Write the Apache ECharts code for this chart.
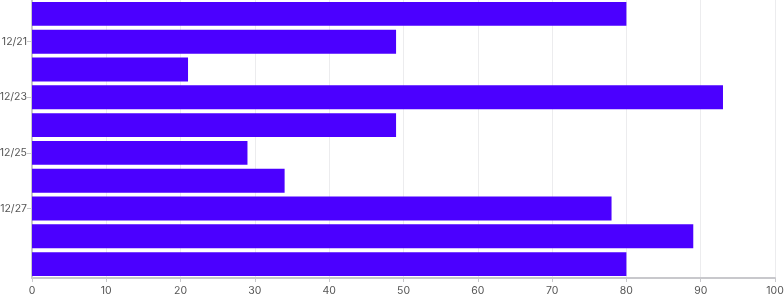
<!DOCTYPE html>
<html><head><meta charset="utf-8">
<script src="https://cdn.jsdelivr.net/npm/echarts@6/dist/echarts.min.js"></script>
<style>html,body{margin:0;padding:0;background:#fff}#c{width:784px;height:300px}</style>
</head><body><div id="c"></div>
<script>
const categories = ['12/20','12/21','12/22','12/23','12/24','12/25','12/26','12/27','12/28','12/29'];
const values = [80, 49, 21, 93, 49, 29, 34, 78, 89, 80];
const shownLabels = ['12/21','12/23','12/25','12/27'];
const xTicks = {min: 0, max: 100, interval: 10};

const chart = echarts.init(document.getElementById('c'), null, {renderer: 'canvas'});
const showFn = (i, v) => shownLabels.indexOf(categories[i]) >= 0;
chart.setOption({
  animation: false,
  grid: {left: 32, right: 9, top: 0, bottom: 22, containLabel: false, outerBoundsMode: 'none'},
  xAxis: {
    type: 'value', min: xTicks.min, max: xTicks.max, interval: xTicks.interval,
    axisLine: {show: true, lineStyle: {color: '#c8c8cc', width: 2}},
    axisTick: {show: true, length: 4, lineStyle: {color: '#c8c8cc'}},
    axisLabel: {color: '#555', fontSize: 10.5, fontFamily: 'Inter', margin: 7},
    splitLine: {show: true, lineStyle: {color: '#ececee', width: 1}}
  },
  yAxis: {
    type: 'category', data: categories, inverse: true,
    axisLine: {show: true, lineStyle: {color: '#c8c8cc', width: 2}},
    axisTick: {show: true, alignWithLabel: true, length: 5, interval: showFn, lineStyle: {color: '#c8c8cc'}},
    axisLabel: {color: '#555', fontSize: 10.5, fontFamily: 'Inter', margin: 5, interval: showFn},
    splitLine: {show: false}
  },
  series: [{
    type: 'bar', data: values, barCategoryGap: '14%',
    itemStyle: {color: '#4b00ff'}
  }]
});
</script></body></html>
